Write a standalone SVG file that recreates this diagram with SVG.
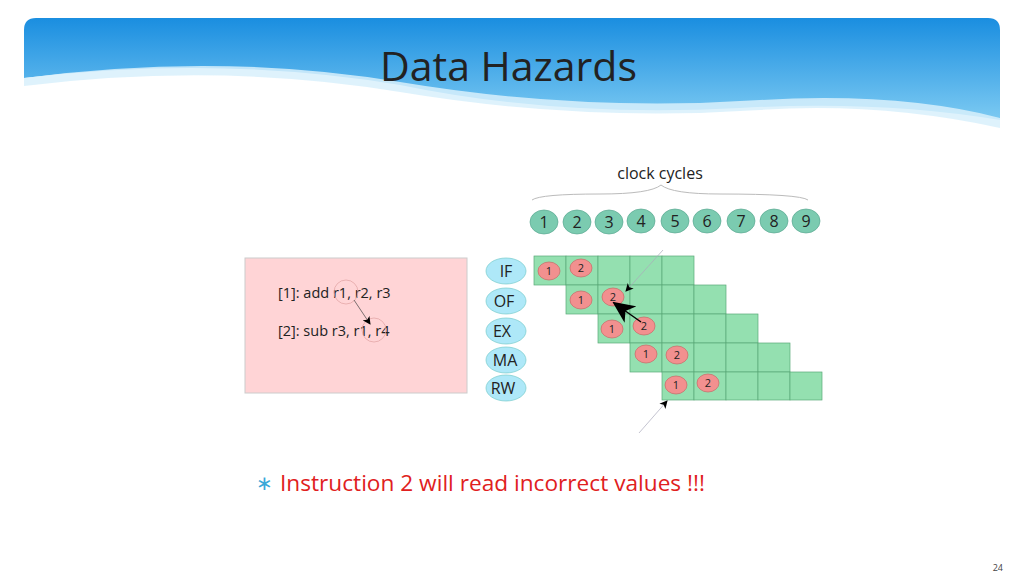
<svg xmlns="http://www.w3.org/2000/svg" width="1024" height="576" viewBox="0 0 1024 576">
<defs>
<linearGradient id="bg" x1="0" y1="0" x2="0" y2="1"><stop offset="0" stop-color="#1a8ee0"/><stop offset="1" stop-color="#7ccaf2"/></linearGradient>
<marker id="ah" markerWidth="8" markerHeight="8" refX="7" refY="4" orient="auto" markerUnits="userSpaceOnUse"><path d="M0,0 L8,4 L0,8 L2,4 Z" fill="#000"/></marker>
<marker id="big" markerWidth="22" markerHeight="20" refX="20" refY="10" orient="auto" markerUnits="userSpaceOnUse"><path d="M0,0 L22,10 L0,20 L6,10 Z" fill="#000"/></marker>
<style>
text{font-family:"Open Sans","Liberation Sans",sans-serif}
.cell{fill:#94e0b0;stroke:#5aa878;stroke-width:0.7}
.clk{fill:#7bcbb0;stroke:#5aa890;stroke-width:0.7}
.stg{fill:#aee8f8;stroke:#7cc;stroke-width:0.7}
.ins{fill:#f2908f;stroke:#c66;stroke-width:0.7}
.t16{font-size:16px;fill:#222;text-anchor:middle}
.t11{font-size:11px;fill:#222;text-anchor:middle}
</style>
</defs>
<path d="M24,30 Q24,18 36,18 L988,18 Q1000,18 1000,30 L1000,120 Q880,100 740,108 Q560,118 400,85 Q220,55 24,78 Z" fill="url(#bg)"/>
<path d="M24,78 Q220,52 400,82 Q580,112 760,100 Q900,92 1000,118 L1000,128 Q880,102 760,110 Q580,122 400,92 Q220,62 24,86 Z" fill="#d8f0fb" opacity="0.85"/>
<text x="380" y="81" font-size="41" fill="#222">Data Hazards</text>
<text x="660" y="179" class="t16" font-size="16">clock cycles</text>
<path d="M532,200 Q540,194 600,194 Q650,194 661,185 Q672,194 720,194 Q800,194 808,200" fill="none" stroke="#bbb" stroke-width="1"/>
<g id="clocks">
<ellipse class="clk" cx="544" cy="222" rx="14" ry="12"/><text class="t16" x="544" y="228">1</text>
<ellipse class="clk" cx="577" cy="222" rx="14" ry="12"/><text class="t16" x="577" y="228">2</text>
<ellipse class="clk" cx="609" cy="222" rx="14" ry="12"/><text class="t16" x="609" y="228">3</text>
<ellipse class="clk" cx="641" cy="221" rx="14" ry="12"/><text class="t16" x="641" y="227">4</text>
<ellipse class="clk" cx="675" cy="221" rx="14" ry="12"/><text class="t16" x="675" y="227">5</text>
<ellipse class="clk" cx="707" cy="221" rx="14" ry="12"/><text class="t16" x="707" y="227">6</text>
<ellipse class="clk" cx="741" cy="221" rx="14" ry="12"/><text class="t16" x="741" y="227">7</text>
<ellipse class="clk" cx="774" cy="221" rx="14" ry="12"/><text class="t16" x="774" y="227">8</text>
<ellipse class="clk" cx="806" cy="221" rx="14" ry="12"/><text class="t16" x="806" y="227">9</text>
</g>
<g id="code">
<rect x="245" y="258" width="222" height="135" fill="#ffd4d6" stroke="#ccc" stroke-width="1"/>
<text x="278" y="298" font-size="14.5" fill="#222">[1]: add r1, r2, r3</text>
<text x="278" y="336" font-size="14.5" fill="#222">[2]: sub r3, r1, r4</text>
<circle cx="346" cy="292" r="12" fill="none" stroke="#e0a0a0" stroke-width="0.7"/>
<circle cx="374" cy="330" r="12" fill="none" stroke="#e0a0a0" stroke-width="0.7"/>
</g>
<g id="stages">
<ellipse class="stg" cx="506" cy="271" rx="20" ry="13"/><text class="t16" x="506" y="277">IF</text>
<ellipse class="stg" cx="506" cy="301" rx="20" ry="13"/><text class="t16" x="504" y="307">OF</text>
<ellipse class="stg" cx="506" cy="331" rx="20" ry="13"/><text class="t16" x="502" y="337">EX</text>
<ellipse class="stg" cx="506" cy="360" rx="20" ry="13"/><text class="t16" x="505" y="366">MA</text>
<ellipse class="stg" cx="506" cy="388" rx="20" ry="13"/><text class="t16" x="503" y="394">RW</text>
</g>
<g id="grid">
<g transform="translate(534,256)"><rect class="cell" x="0" width="32" height="29"/><rect class="cell" x="32" width="32" height="29"/><rect class="cell" x="64" width="32" height="29"/><rect class="cell" x="96" width="32" height="29"/><rect class="cell" x="128" width="32" height="29"/></g>
<g transform="translate(566,285)"><rect class="cell" x="0" width="32" height="29"/><rect class="cell" x="32" width="32" height="29"/><rect class="cell" x="64" width="32" height="29"/><rect class="cell" x="96" width="32" height="29"/><rect class="cell" x="128" width="32" height="29"/></g>
<g transform="translate(598,314)"><rect class="cell" x="0" width="32" height="29"/><rect class="cell" x="32" width="32" height="29"/><rect class="cell" x="64" width="32" height="29"/><rect class="cell" x="96" width="32" height="29"/><rect class="cell" x="128" width="32" height="29"/></g>
<g transform="translate(630,343)"><rect class="cell" x="0" width="32" height="29"/><rect class="cell" x="32" width="32" height="29"/><rect class="cell" x="64" width="32" height="29"/><rect class="cell" x="96" width="32" height="29"/><rect class="cell" x="128" width="32" height="29"/></g>
<g transform="translate(662,372)"><rect class="cell" x="0" width="32" height="28"/><rect class="cell" x="32" width="32" height="28"/><rect class="cell" x="64" width="32" height="28"/><rect class="cell" x="96" width="32" height="28"/><rect class="cell" x="128" width="32" height="28"/></g>
</g>
<g id="instr">
<ellipse class="ins" cx="549" cy="271" rx="11" ry="9"/><text class="t11" x="549" y="275">1</text>
<ellipse class="ins" cx="581" cy="268" rx="11" ry="9"/><text class="t11" x="581" y="272">2</text>
<ellipse class="ins" cx="581" cy="300" rx="11" ry="9"/><text class="t11" x="581" y="304">1</text>
<ellipse class="ins" cx="613" cy="297" rx="11" ry="9"/><text class="t11" x="613" y="301">2</text>
<ellipse class="ins" cx="612" cy="329" rx="11" ry="9"/><text class="t11" x="612" y="333">1</text>
<ellipse class="ins" cx="644" cy="326" rx="11" ry="9"/><text class="t11" x="644" y="330">2</text>
<ellipse class="ins" cx="646" cy="354" rx="11" ry="9"/><text class="t11" x="646" y="358">1</text>
<ellipse class="ins" cx="677" cy="355" rx="11" ry="9"/><text class="t11" x="677" y="359">2</text>
<ellipse class="ins" cx="676" cy="385" rx="11" ry="9"/><text class="t11" x="676" y="389">1</text>
<ellipse class="ins" cx="708" cy="383" rx="11" ry="9"/><text class="t11" x="708" y="387">2</text>
</g>
<g id="connectors" fill="none" stroke-width="0.7">
<line x1="663" y1="250" x2="626" y2="291" stroke="#aab" marker-end="url(#ah)"/>
<line x1="641" y1="322" x2="614" y2="303" stroke="#000" stroke-width="1.5" marker-end="url(#big)"/>
<line x1="639" y1="433" x2="667" y2="401" stroke="#aab" marker-end="url(#ah)"/>
<line x1="354" y1="300" x2="370" y2="324" stroke="#444" marker-end="url(#ah)"/>
</g>
<text x="256" y="490" font-size="20" fill="#3aa8d8">∗</text>
<text x="280" y="491" font-size="21" fill="#e02020" textLength="425" lengthAdjust="spacingAndGlyphs">Instruction 2 will read incorrect values !!!</text>
<text x="1003" y="571" font-size="9" fill="#444" text-anchor="end">24</text>
</svg>
